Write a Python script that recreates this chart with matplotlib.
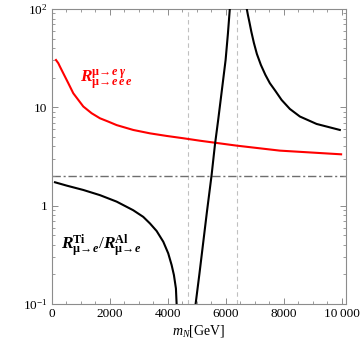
import matplotlib
matplotlib.use('Agg')
import matplotlib.pyplot as plt
from matplotlib.ticker import FixedLocator, NullFormatter

# ---------------------------------------------------------------------------
# values

# R(mu->e gamma) / R(mu->eee), red curve
red_m = [138, 218, 276, 390, 563, 735, 908, 1080, 1368, 1655, 1943, 2230,
         2803, 3380, 3955, 4530, 5100, 6370, 7860, 9975]
red_r = [30.3, 28.1, 25.9, 22.2, 17.6, 13.9, 11.9, 10.2, 8.71, 7.74, 7.16,
         6.6, 5.89, 5.44, 5.12, 4.85, 4.58, 4.08, 3.63, 3.33]

# R_Ti / R_Al, black curve, three branches
ti_m1 = [103, 507, 1080, 1655, 2230, 2800, 3148, 3380, 3610, 3840, 4010,
         4128, 4207, 4276, 4300, 4310]
ti_r1 = [1.73, 1.60, 1.445, 1.28, 1.10, 0.90, 0.77, 0.66, 0.553, 0.43,
         0.328, 0.249, 0.197, 0.144, 0.10, 0.09]

ti_m2 = [4940, 4955, 5086, 5207, 5345, 5507, 5621, 5734, 5862, 5990, 6069,
         6138, 6150]
ti_r2 = [0.09, 0.10, 0.202, 0.398, 0.863, 2.05, 4.14, 7.45, 15.0, 30.3,
         55.8, 102.6, 110]

ti_m3 = [6690, 6714, 6759, 6810, 6879, 6966, 7069, 7207, 7362, 7517, 7707,
         7921, 8207, 8552, 9128, 9931]
ti_r3 = [115, 102.6, 87.1, 73.9, 58.5, 45.2, 34.9, 27.0, 21.4, 17.6, 14.7,
         11.9, 9.63, 8.07, 6.78, 5.89]

ratio_level = 2.0
vlines_m = [4690, 6390]

xticks = [0, 2000, 4000, 6000, 8000, 10000]
xticklabels = ['0', '2000', '4000', '6000', '8000', '10\u2009000']
yticks = [0.1, 1, 10, 100]
yticklabels = ['$10^{-1}$', '1', '10', '$10^{2}$']

# ---------------------------------------------------------------------------

plt.rcParams['font.family'] = ['Liberation Serif', 'DejaVu Serif']
plt.rcParams['mathtext.fontset'] = 'custom'
plt.rcParams['mathtext.rm'] = 'Liberation Serif'
plt.rcParams['mathtext.it'] = 'Liberation Serif:italic'
plt.rcParams['mathtext.bf'] = 'Liberation Serif:bold'
plt.rcParams['mathtext.bfit'] = 'Liberation Serif:italic:bold'

frame = '#8c8c8c'

fig = plt.figure(figsize=(3.6, 3.42), dpi=100)
ax = fig.add_axes([0.1436, 0.111, 0.8164, 0.8627])

for xv in vlines_m:
    ax.axvline(xv, color='#c0c0c0', lw=0.8, ls=(0, (4, 3)), zorder=1)
ax.axhline(ratio_level, color='#6e6e6e', lw=1.0, ls=(0, (6, 2, 1.5, 2)), zorder=1)

ax.plot(red_m, red_r, color='red', lw=1.5, zorder=3)
for mm, rr in ((ti_m1, ti_r1), (ti_m2, ti_r2), (ti_m3, ti_r3)):
    ax.plot(mm, rr, color='black', lw=1.5, zorder=3)

ax.set_yscale('log')
ax.set_xlim(-10, 10130)
ax.set_ylim(0.1, 100)

ax.xaxis.set_major_locator(FixedLocator(xticks))
ax.set_xticklabels(xticklabels)
ax.xaxis.set_minor_locator(FixedLocator([v for v in range(0, 10001, 500)
                                         if v % 2000]))
ax.yaxis.set_major_locator(FixedLocator(yticks))
ax.set_yticklabels(yticklabels)
ax.yaxis.set_minor_locator(FixedLocator([k * 10.0 ** e for e in (-1, 0, 1)
                                         for k in range(2, 10)]))
ax.yaxis.set_minor_formatter(NullFormatter())

ax.tick_params(which='both', direction='in', top=True, right=True,
               color=frame, labelsize=9.5, pad=3)
ax.tick_params(which='major', length=4.5, width=0.7)
ax.tick_params(which='minor', length=2.5, width=0.6)
for s in ax.spines.values():
    s.set_color(frame)
    s.set_linewidth(0.8)

ax.set_xlabel('$m_N$[GeV]', fontsize=10, labelpad=2)

ax.text(0.096, 0.76,
        r'$\mathbfit{R}^{\mathbf{\mu\!\to\!}\mathbfit{e\;\gamma}}'
        r'_{\mathbf{\mu\!\to\!}\mathbfit{e\,e\,e}}$',
        transform=ax.transAxes, color='red', fontsize=12.5, va='center')
ax.text(0.032, 0.197,
        r'$\mathbfit{R}^{\mathbf{Ti}}_{\mathbf{\mu\!\to\!}\mathbfit{e}}'
        r'/\mathbfit{R}^{\mathbf{Al}}_{\mathbf{\mu\!\to\!}\mathbfit{e}}$',
        transform=ax.transAxes, color='black', fontsize=12.5, va='center')

fig.savefig('out.png', dpi=100)
